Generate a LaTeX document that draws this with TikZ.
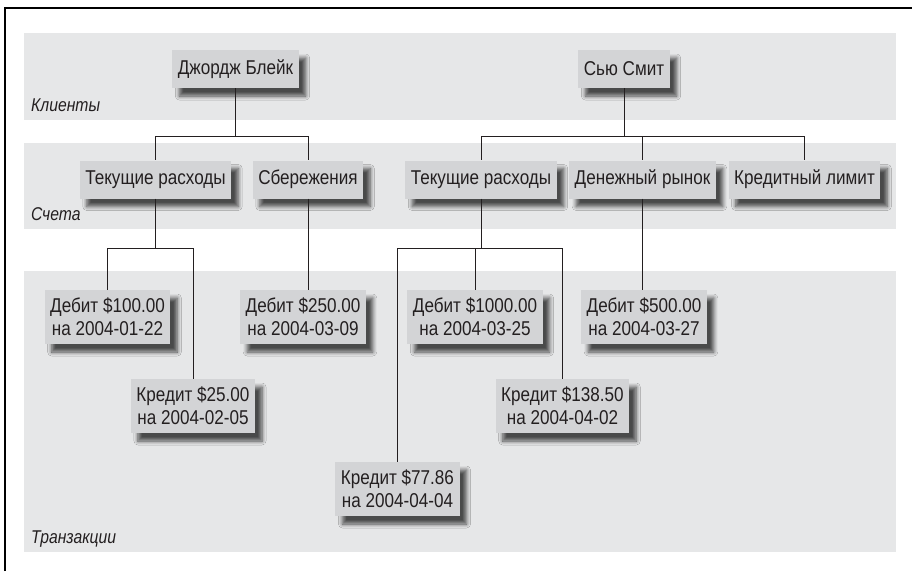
\documentclass[tikz,border=0pt]{standalone}
\usepackage{fontspec}
\setmainfont{Liberation Sans}[FakeStretch=0.855]
\newfontfamily\labelfont{Liberation Sans}[FakeStretch=0.85]
\usetikzlibrary{shadows.blur}
\definecolor{bandgray}{HTML}{E6E7E8}
\definecolor{boxgray}{HTML}{D3D4D6}
\definecolor{inkc}{HTML}{231F20}
\tikzset{
  band/.style={fill=bandgray, draw=none},
  box/.style={fill=boxgray, draw=none, text=inkc, font=\fontsize{20}{23}\selectfont,
     inner xsep=5.5pt, inner ysep=0pt, minimum height=38pt, align=center,
     blur shadow={shadow xshift=7pt, shadow yshift=-8pt, shadow blur steps=6, shadow blur radius=4pt, shadow opacity=68}},
  tbox/.style={box, minimum height=54pt},
  layer/.style={anchor=base west, inner sep=0pt, text=inkc, font=\labelfont\fontsize{18.5}{22}\selectfont\itshape},
  conn/.style={draw=inkc, line width=0.9pt}
}
\begin{document}
\begin{tikzpicture}[x=1pt,y=-1pt]
\useasboundingbox (0,0) rectangle (912,571);
\fill[white] (0,0) rectangle (912,571);
% frame (top and left only)
\draw[line width=2.2pt, black] (5,571) -- (5,8) -- (912,8);
% bands
\path[band] (24,33) rectangle (896,120);
\path[band] (24,143) rectangle (896,229);
\path[band] (24,271) rectangle (896,552);
% layer labels
\node[layer] (lk) at (31,111) {Клиенты};
\node[layer] (ls) at (31,220) {Счета};
\node[layer] (lt) at (31,543) {Транзакции};
% customers
\node[box] (gb) at (235.5,69) {Джордж Блейк};
\node[box] (ss) at (624,69) {Сью Смит};
% accounts
\node[box] (tr1) at (155.5,179.5) {Текущие расходы};
\node[box] (sb) at (308,179.5) {Сбережения};
\node[box] (tr2) at (481,179.5) {Текущие расходы};
\node[box] (dr) at (642.5,179.5) {Денежный рынок};
\node[box] (kl) at (804.5,179.5) {Кредитный лимит};
% transactions
\node[tbox] (d100) at (107.5,317) {Дебит \$100.00\\на 2004-01-22};
\node[tbox] (k25) at (193,406) {Кредит \$25.00\\на 2004-02-05};
\node[tbox] (d250) at (303,317) {Дебит \$250.00\\на 2004-03-09};
\node[tbox] (d1000) at (475,317) {Дебит \$1000.00\\на 2004-03-25};
\node[tbox] (k7786) at (397.5,489) {Кредит \$77.86\\на 2004-04-04};
\node[tbox] (k13850) at (562.5,406) {Кредит \$138.50\\на 2004-04-02};
\node[tbox] (d500) at (644,317) {Дебит \$500.00\\на 2004-03-27};
% bus coordinates
\coordinate (bA) at (0,136);
\coordinate (bB) at (0,248);
% connectors
\draw[conn] (gb.south) -- (gb.south |- bA) -| (tr1.north);
\draw[conn] (gb.south |- bA) -| (sb.north);
\draw[conn] (ss.south) -- (ss.south |- bA) -| (tr2.north);
\draw[conn] (ss.south |- bA) -| (dr.north);
\draw[conn] (ss.south |- bA) -| (kl.north);
\draw[conn] (tr1.south) -- (tr1.south |- bB) -| (d100.north);
\draw[conn] (tr1.south |- bB) -| (k25.north);
\draw[conn] (sb.south) -- (sb.south |- d250.north);
\draw[conn] (tr2.south) -- (tr2.south |- bB) -| (k7786.north);
\draw[conn] (tr2.south |- bB) -| (d1000.north);
\draw[conn] (tr2.south |- bB) -| (k13850.north);
\draw[conn] (dr.south) -- (dr.south |- d500.north);
\end{tikzpicture}
\end{document}
